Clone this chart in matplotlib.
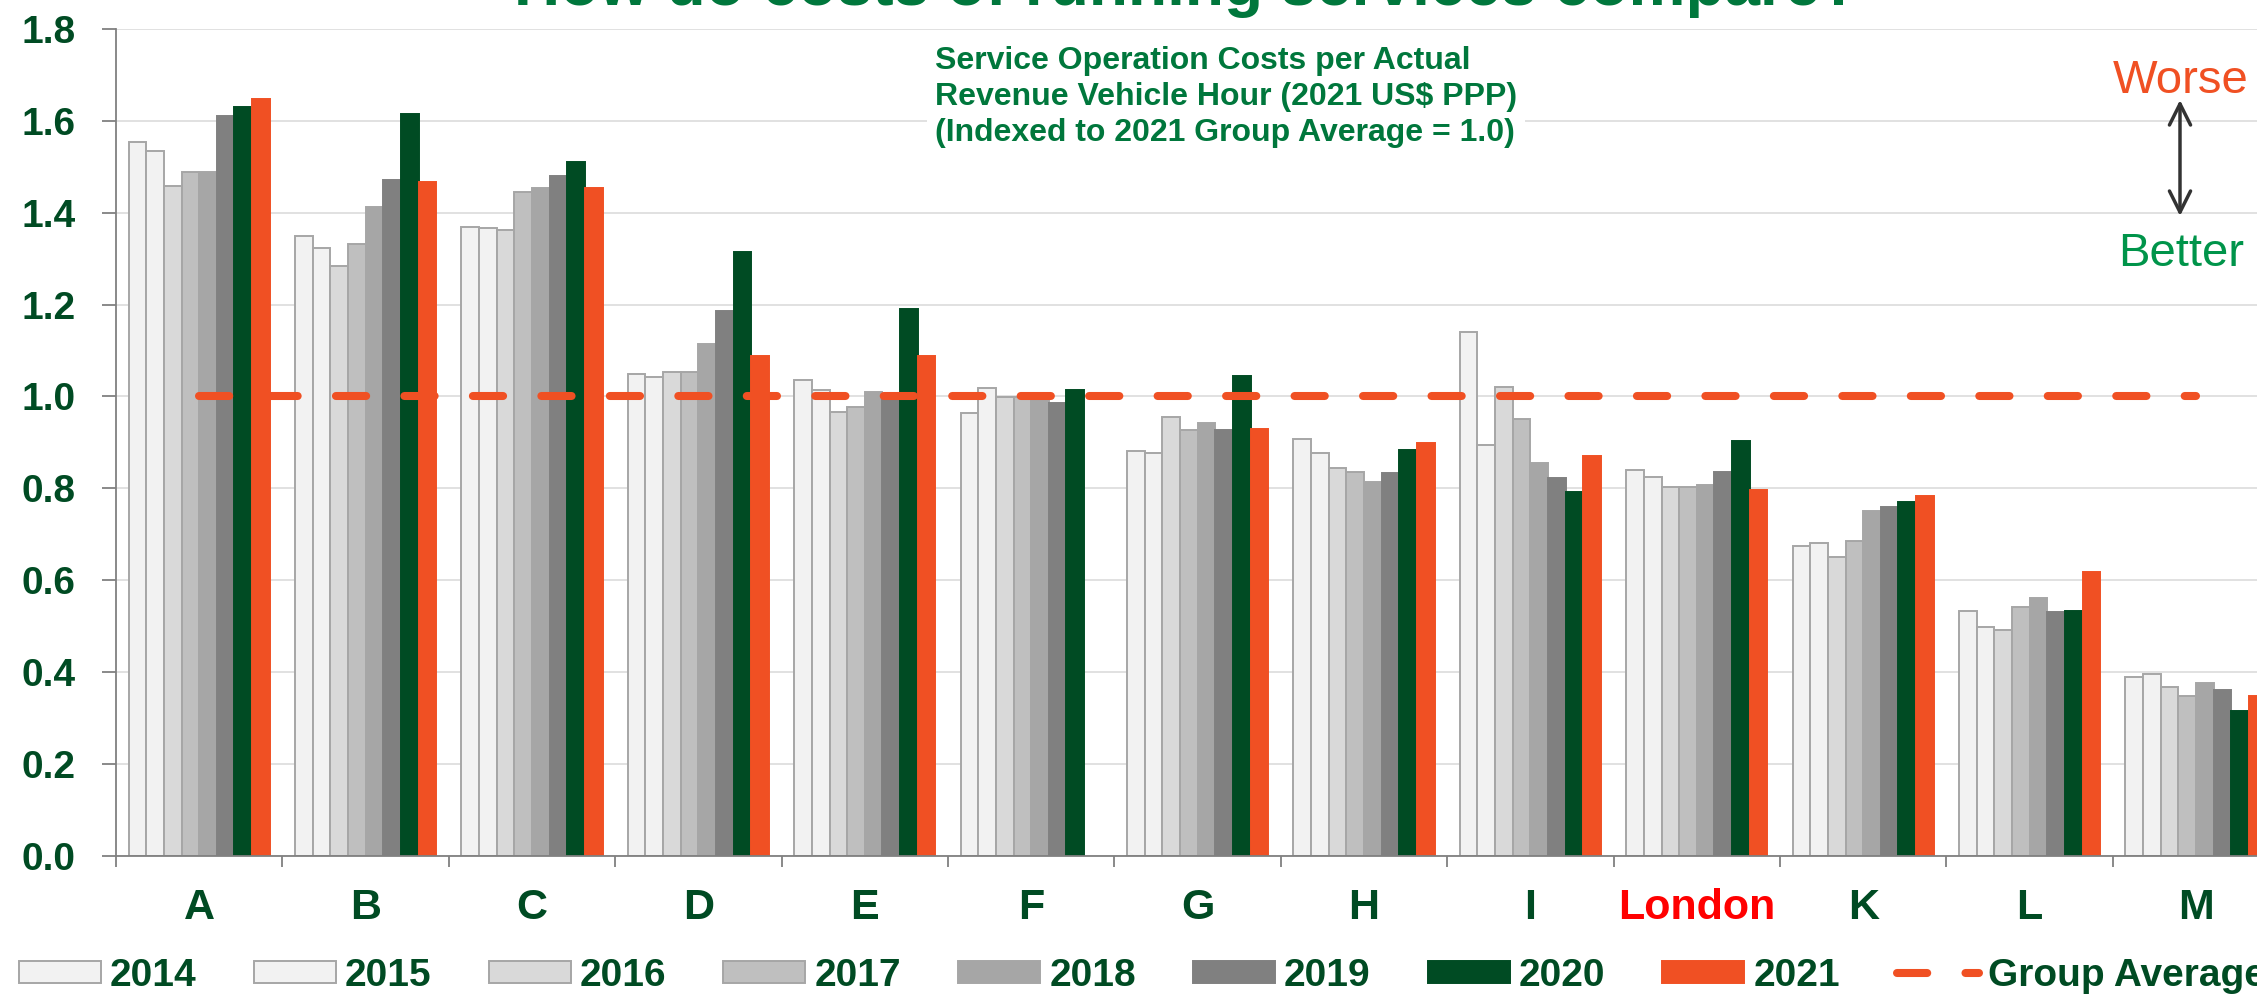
import numpy as np
import matplotlib
matplotlib.use("Agg")
import matplotlib.pyplot as plt
from matplotlib.ticker import FixedLocator

# ---------------- data ----------------
categories = ["A", "B", "C", "D", "E", "F", "G", "H", "I", "London", "K", "L", "M"]
years = ["2014", "2015", "2016", "2017", "2018", "2019", "2020", "2021"]

v2014 = [1.554, 1.349, 1.368, 1.049, 1.035, 0.964, 0.881, 0.908, 1.141, 0.839, 0.674, 0.533, 0.389]
v2015 = [1.534, 1.324, 1.366, 1.043, 1.013, 1.018, 0.877, 0.876, 0.894, 0.824, 0.681, 0.498, 0.396]
v2016 = [1.457, 1.284, 1.363, 1.054, 0.966, 0.999, 0.955, 0.844, 1.020, 0.803, 0.651, 0.492, 0.367]
v2017 = [1.489, 1.332, 1.445, 1.054, 0.976, 0.998, 0.928, 0.835, 0.951, 0.804, 0.686, 0.542, 0.349]
v2018 = [1.489, 1.412, 1.453, 1.114, 1.009, 0.996, 0.943, 0.814, 0.855, 0.807, 0.751, 0.561, 0.376]
v2019 = [1.611, 1.472, 1.480, 1.186, 1.005, 0.986, 0.927, 0.833, 0.822, 0.835, 0.759, 0.531, 0.362]
v2020 = [1.629, 1.614, 1.511, 1.314, 1.190, 1.014, 1.044, 0.883, 0.793, 0.904, 0.770, 0.533, 0.316]
v2021 = [1.647, 1.467, 1.453, 1.088, 1.087, np.nan, 0.930, 0.898, 0.871, 0.796, 0.784, 0.619, 0.349]
series = [v2014, v2015, v2016, v2017, v2018, v2019, v2020, v2021]

group_average = 1.0
yticks = [0.0, 0.2, 0.4, 0.6, 0.8, 1.0, 1.2, 1.4, 1.6, 1.8]

# ---------------- style ----------------
plt.rcParams['font.family'] = ['Liberation Sans', 'DejaVu Sans']
DARK_GREEN = '#004B23'
TEXT_GREEN = '#00773C'
ORANGE = '#F05023'
faces = ['#F2F2F2', '#F2F2F2', '#D9D9D9', '#BFBFBF', '#A6A6A6', '#808080', DARK_GREEN, ORANGE]
edges = ['#A6A6A6', '#A6A6A6', '#A6A6A6', '#A6A6A6', '#A6A6A6', '#808080', DARK_GREEN, ORANGE]

W, H = 2257, 994
fig = plt.figure(figsize=(W / 100, H / 100), dpi=100)
ax = fig.add_axes([116 / W, 138 / H, 13 * 166.4 / W, (856 - 28.8) / H])

x = np.arange(len(categories))
bw = 0.106
n = len(series)
handles = []
for i, (vals, fc, ec) in enumerate(zip(series, faces, edges)):
    offs = (i - (n - 1) / 2) * bw
    b = ax.bar(x + offs, vals, width=bw, color=fc, edgecolor=ec, linewidth=1.4,
               label=years[i], zorder=2)
    handles.append(b)

(avg_line,) = ax.plot([x[0], x[-1]], [group_average, group_average], color=ORANGE,
                      lw=5.8, solid_capstyle='round', dash_capstyle='round',
                      linestyle=(0, (3.75, 4.75)), zorder=3, label='Group Average')
handles.append(avg_line)

ax.set_xlim(-0.5, len(categories) - 0.5)
ax.set_ylim(0, 1.8)
ax.yaxis.set_major_locator(FixedLocator(yticks))
ax.set_yticklabels([f"{t:.1f}" for t in yticks])
ax.grid(axis='y', color='#D9D9D9', lw=1.1, zorder=0)
ax.set_axisbelow(True)

for s in ['top', 'right']:
    ax.spines[s].set_visible(False)
for s in ['left', 'bottom']:
    ax.spines[s].set_color('#808080')
    ax.spines[s].set_linewidth(1.3)

ax.set_xticks(x)
ax.set_xticklabels(categories)
ax.xaxis.set_minor_locator(FixedLocator(np.arange(-0.5, len(categories), 1.0)))
ax.tick_params(axis='x', which='major', length=0, pad=23)
ax.tick_params(axis='x', which='minor', length=8, width=1.3, color='#808080')
ax.tick_params(axis='y', which='major', length=10, width=1.3, color='#808080', pad=19)

for lbl in ax.get_xticklabels():
    lbl.set_fontsize(31)
    lbl.set_fontweight('bold')
    lbl.set_color('#FF0000' if lbl.get_text() == 'London' else DARK_GREEN)
for lbl in ax.get_yticklabels():
    lbl.set_fontsize(28)
    lbl.set_fontweight('bold')
    lbl.set_color(DARK_GREEN)

# legend
leg = fig.legend(handles=handles, labels=years + ['Group Average'],
                 loc='center left', bbox_to_anchor=(19 / W, 18 / H), ncol=9,
                 frameon=False, prop={'weight': 'bold', 'size': 28},
                 labelcolor=DARK_GREEN, handlelength=2.11, handleheight=0.51,
                 handletextpad=0.23, columnspacing=1.47, borderpad=0, borderaxespad=0)

# title (partly cut at top)
fig.text(1187 / W, 1 - 5 / H, "How do costs of running services compare?",
         ha='center', va='baseline', fontsize=46, fontweight='bold', color=TEXT_GREEN)

# subtitle box
fig.text(935 / W, 1 - 46 / H,
         "Service Operation Costs per Actual\nRevenue Vehicle Hour (2021 US$ PPP)\n(Indexed to 2021 Group Average = 1.0)",
         ha='left', va='top', fontsize=23, fontweight='bold', color=TEXT_GREEN,
         linespacing=1.25, bbox=dict(facecolor='white', edgecolor='none', pad=6), zorder=5)

# Worse / Better
fig.text(2181 / W, 1 - 93 / H, "Worse", ha='center', va='baseline', fontsize=34, color=ORANGE)
fig.text(2181 / W, 1 - 266 / H, "Better", ha='center', va='baseline', fontsize=34, color='#00944A')
ax.annotate('', xy=(2180 / W, 1 - 100 / H), xytext=(2180 / W, 1 - 216 / H),
            xycoords='figure fraction', textcoords='figure fraction',
            arrowprops=dict(arrowstyle='<->,head_length=0.4,head_width=0.2', lw=2.5,
                            color='#333333', mutation_scale=38, shrinkA=0, shrinkB=0))

fig.savefig('out.png', dpi=100)
